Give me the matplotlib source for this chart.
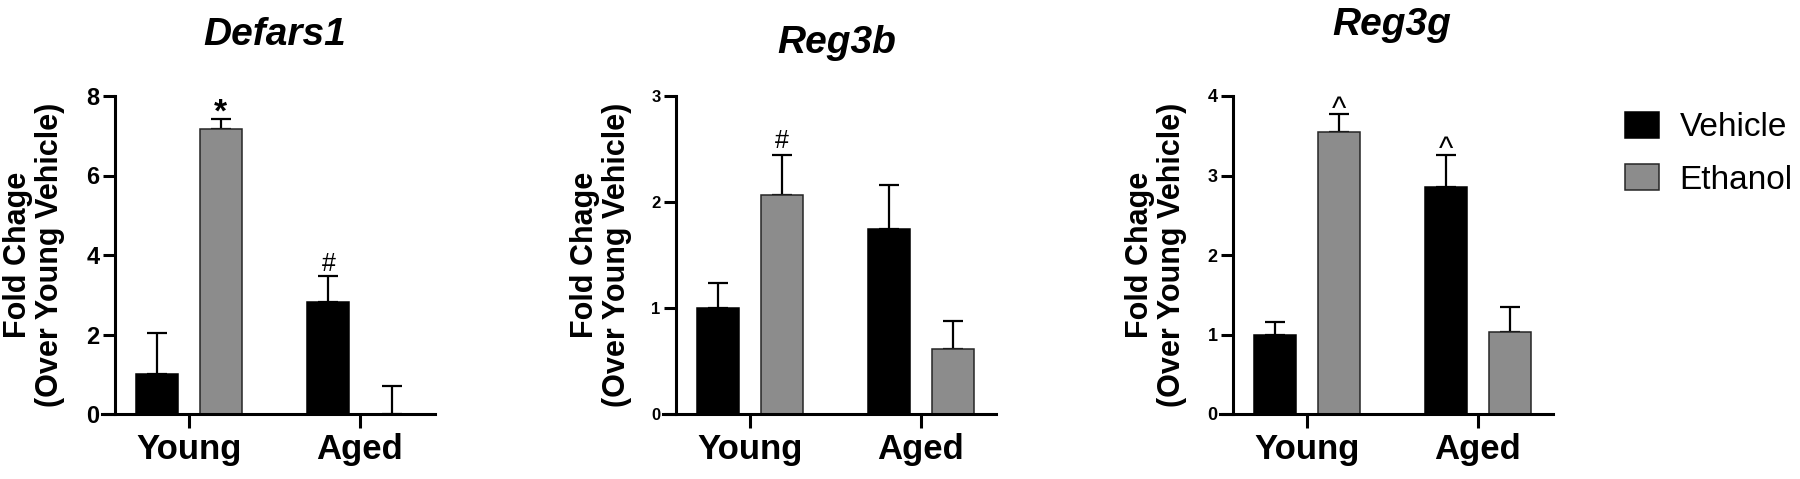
import matplotlib
matplotlib.use("Agg")
import matplotlib.pyplot as plt
from matplotlib.patches import Patch
import numpy as np

plt.rcParams['font.family'] = ['Liberation Sans', 'DejaVu Sans']

# ---------------- data ----------------
categories = ['Young', 'Aged']
series_names = ['Vehicle', 'Ethanol']

defars_vehicle = [1.00, 2.81]
defars_vehicle_err = [1.05, 0.65]
defars_ethanol = [7.17, 0.00]
defars_ethanol_err = [0.25, 0.70]
defars_marks_vehicle = ['', '#']
defars_marks_ethanol = ['*', '']

reg3b_vehicle = [1.00, 1.75]
reg3b_vehicle_err = [0.24, 0.41]
reg3b_ethanol = [2.07, 0.61]
reg3b_ethanol_err = [0.37, 0.27]
reg3b_marks_vehicle = ['', '']
reg3b_marks_ethanol = ['#', '']

reg3g_vehicle = [1.00, 2.86]
reg3g_vehicle_err = [0.16, 0.40]
reg3g_ethanol = [3.55, 1.03]
reg3g_ethanol_err = [0.22, 0.31]
reg3g_marks_vehicle = ['', '^']
reg3g_marks_ethanol = ['^', '']

titles = ['Defars1', 'Reg3b', 'Reg3g']
y_maxes = [8, 3, 4]
y_ticks = [[0, 2, 4, 6, 8], [0, 1, 2, 3], [0, 1, 2, 3, 4]]
ylabel_text = 'Fold Chage\n(Over Young Vehicle)'

# ---------------- style / layout ----------------
W, H = 1800, 479
fig = plt.figure(figsize=(W / 100, H / 100), dpi=100)

colors = ['#000000', '#8c8c8c']
edge_colors = ['#000000', '#262626']

XMIN, XMAX = -0.509, 1.44
SPINE_X = -0.433
group_sep_px = [171, 171, 171]          # pixel distance between group centres
group0_px = [189, 750, 1307]            # pixel of first group centre
axes_top_px, axes_bottom_px = 96, 414
ytick_sizes = [17, 12, 13]
ylabel_center_px = [34, 601, 1156]
title_center_px = [275, 837, 1392]
title_baseline_px = [45, 53, 35]
mark_sizes = {'*': 24, '#': 18, '^': 22}
mark_weights = {'*': 'bold', '#': 'normal', '^': 'normal'}

panel_data = [
    (defars_vehicle, defars_vehicle_err, defars_ethanol, defars_ethanol_err,
     defars_marks_vehicle, defars_marks_ethanol, {'*': -2.0, '#': 4.0}),
    (reg3b_vehicle, reg3b_vehicle_err, reg3b_ethanol, reg3b_ethanol_err,
     reg3b_marks_vehicle, reg3b_marks_ethanol, {'#': 5.5}),
    (reg3g_vehicle, reg3g_vehicle_err, reg3g_ethanol, reg3g_ethanol_err,
     reg3g_marks_vehicle, reg3g_marks_ethanol, {'^': -2.5}),
]

x = np.arange(len(categories))
offset = 0.185
width = 0.245

for i, (vals_v, err_v, vals_e, err_e, mk_v, mk_e, mk_off) in enumerate(panel_data):
    sep = group_sep_px[i]
    left_px = group0_px[i] + XMIN * sep
    width_px = (XMAX - XMIN) * sep
    ax = fig.add_axes([left_px / W, 1 - axes_bottom_px / H, width_px / W,
                       (axes_bottom_px - axes_top_px) / H])
    capsize_pt = width * sep / 4 * 0.72
    series = [(vals_v, err_v, mk_v), (vals_e, err_e, mk_e)]
    for s, (vals, errs, marks) in enumerate(series):
        xs = x + (-offset if s == 0 else offset)
        ax.bar(xs, vals, width=width, color=colors[s], edgecolor=edge_colors[s],
               linewidth=1.1, zorder=2)
        ax.errorbar(xs, vals, yerr=[np.zeros(len(vals)), errs], fmt='none',
                    ecolor='black', elinewidth=1.6, capsize=capsize_pt,
                    capthick=1.6, zorder=1)
        for xi, v, e, m in zip(xs, vals, errs, marks):
            if m:
                ax.annotate(m, xy=(xi, v + e), xytext=(0, mk_off.get(m, 0)),
                            textcoords='offset points', ha='center',
                            va='baseline', fontsize=mark_sizes[m],
                            fontweight=mark_weights[m], color='black')
    ax.set_xlim(XMIN, XMAX)
    ax.set_ylim(0, y_maxes[i])
    ax.set_yticks(y_ticks[i])
    ax.set_xticks(x)
    ax.set_xticklabels(categories)
    ax.spines['top'].set_visible(False)
    ax.spines['right'].set_visible(False)
    ax.spines['left'].set_position(('data', SPINE_X))
    ax.spines['left'].set_linewidth(2.2)
    ax.spines['bottom'].set_linewidth(2.2)
    ax.tick_params(axis='x', length=10, width=2.2, pad=4, direction='out',
                   labelsize=25)
    ax.tick_params(axis='y', length=9, width=2.2, pad=2, direction='out',
                   labelsize=ytick_sizes[i])
    for lbl in ax.get_xticklabels() + ax.get_yticklabels():
        lbl.set_fontweight('bold')
    ax.set_ylabel(ylabel_text, fontsize=22, fontweight='bold', va='center',
                  linespacing=1.1)
    ax.yaxis.set_label_coords((ylabel_center_px[i] - left_px) / width_px, 0.5)
    ax.patch.set_visible(False)
    fig.text(title_center_px[i] / W, 1 - title_baseline_px[i] / H, titles[i],
             ha='center', va='baseline', fontsize=28, fontweight='bold',
             fontstyle='italic')

handles = [Patch(facecolor=colors[k], edgecolor=edge_colors[k], linewidth=1.1)
           for k in range(2)]
fig.legend(handles, series_names, loc='upper left',
           bbox_to_anchor=(1625 / W, 1 - 112 / H), frameon=False,
           fontsize=24, handlelength=1.02, handleheight=0.81,
           handletextpad=0.62, labelspacing=0.62, borderpad=0,
           borderaxespad=0)

fig.savefig('out.png', dpi=100, facecolor='white')
